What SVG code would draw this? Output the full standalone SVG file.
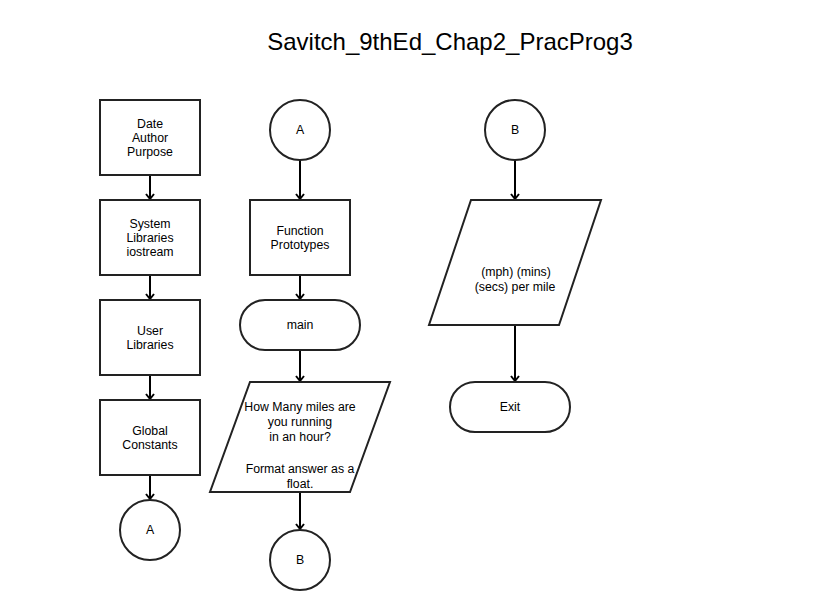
<svg xmlns="http://www.w3.org/2000/svg" width="817" height="610" viewBox="0 0 817 610">
<style>
.s{fill:#fff;stroke:#222;stroke-width:2}
.t{font-family:"Liberation Sans",Arial,sans-serif;font-size:12.3px;fill:#000;text-anchor:middle}
.c{stroke:#000;stroke-width:2;fill:none;marker-end:url(#ah)}
</style>
<defs>
<marker id="ah" markerWidth="10" markerHeight="10" refX="6" refY="5" orient="auto" markerUnits="userSpaceOnUse">
<path d="M1,1 L6,5 L1,9" fill="none" stroke="#000" stroke-width="2"/>
</marker>
</defs>
<rect width="817" height="610" fill="#fff"/>
<text x="450" y="50" font-family="Liberation Sans,Arial,sans-serif" font-size="24" text-anchor="middle">Savitch_9thEd_Chap2_PracProg3</text>
<g id="connectors">
<path class="c" d="M150,175 V199"/>
<path class="c" d="M150,275 V299"/>
<path class="c" d="M150,375 V399"/>
<path class="c" d="M150,475 V499"/>
<path class="c" d="M300,160 V199"/>
<path class="c" d="M300,275 V299"/>
<path class="c" d="M300,350 V381"/>
<path class="c" d="M300,492 V529"/>
<path class="c" d="M515,160 V199"/>
<path class="c" d="M515,325 V381"/>
</g>
<g id="n1"><rect class="s" x="100" y="100" width="100" height="75"/><text class="t" x="150" y="128">Date</text><text class="t" x="150" y="142">Author</text><text class="t" x="150" y="156">Purpose</text></g>
<g id="n2"><rect class="s" x="100" y="200" width="100" height="75"/><text class="t" x="150" y="228">System</text><text class="t" x="150" y="242">Libraries</text><text class="t" x="150" y="256">iostream</text></g>
<g id="n3"><rect class="s" x="100" y="300" width="100" height="75"/><text class="t" x="150" y="335">User</text><text class="t" x="150" y="349">Libraries</text></g>
<g id="n4"><rect class="s" x="100" y="400" width="100" height="75"/><text class="t" x="150" y="435">Global</text><text class="t" x="150" y="449">Constants</text></g>
<g id="n5"><circle class="s" cx="150" cy="530" r="30"/><text class="t" x="150" y="534">A</text></g>
<g id="n6"><circle class="s" cx="300" cy="130" r="30"/><text class="t" x="300" y="134">A</text></g>
<g id="n7"><rect class="s" x="250" y="200" width="100" height="75"/><text class="t" x="300" y="235">Function</text><text class="t" x="300" y="249">Prototypes</text></g>
<g id="n8"><rect class="s" x="240" y="300" width="120" height="50" rx="25"/><text class="t" x="300" y="329">main</text></g>
<g id="n9"><polygon class="s" points="250,382 390,382 350,492 210,492"/><text class="t" x="300" y="411">How Many miles are</text><text class="t" x="300" y="426">you running</text><text class="t" x="300" y="441">in an hour?</text><text class="t" x="300" y="473">Format answer as a</text><text class="t" x="300" y="488">float.</text></g>
<g id="n10"><circle class="s" cx="300" cy="560" r="30"/><text class="t" x="300" y="564">B</text></g>
<g id="n11"><circle class="s" cx="515" cy="130" r="30"/><text class="t" x="515" y="134">B</text></g>
<g id="n12"><polygon class="s" points="471,200 601,200 559,325 429,325"/><text class="t" x="516" y="276">(mph) (mins)</text><text class="t" x="515" y="291">(secs) per mile</text></g>
<g id="n13"><rect class="s" x="450" y="382" width="120" height="50" rx="25"/><text class="t" x="510" y="411">Exit</text></g>
</svg>
